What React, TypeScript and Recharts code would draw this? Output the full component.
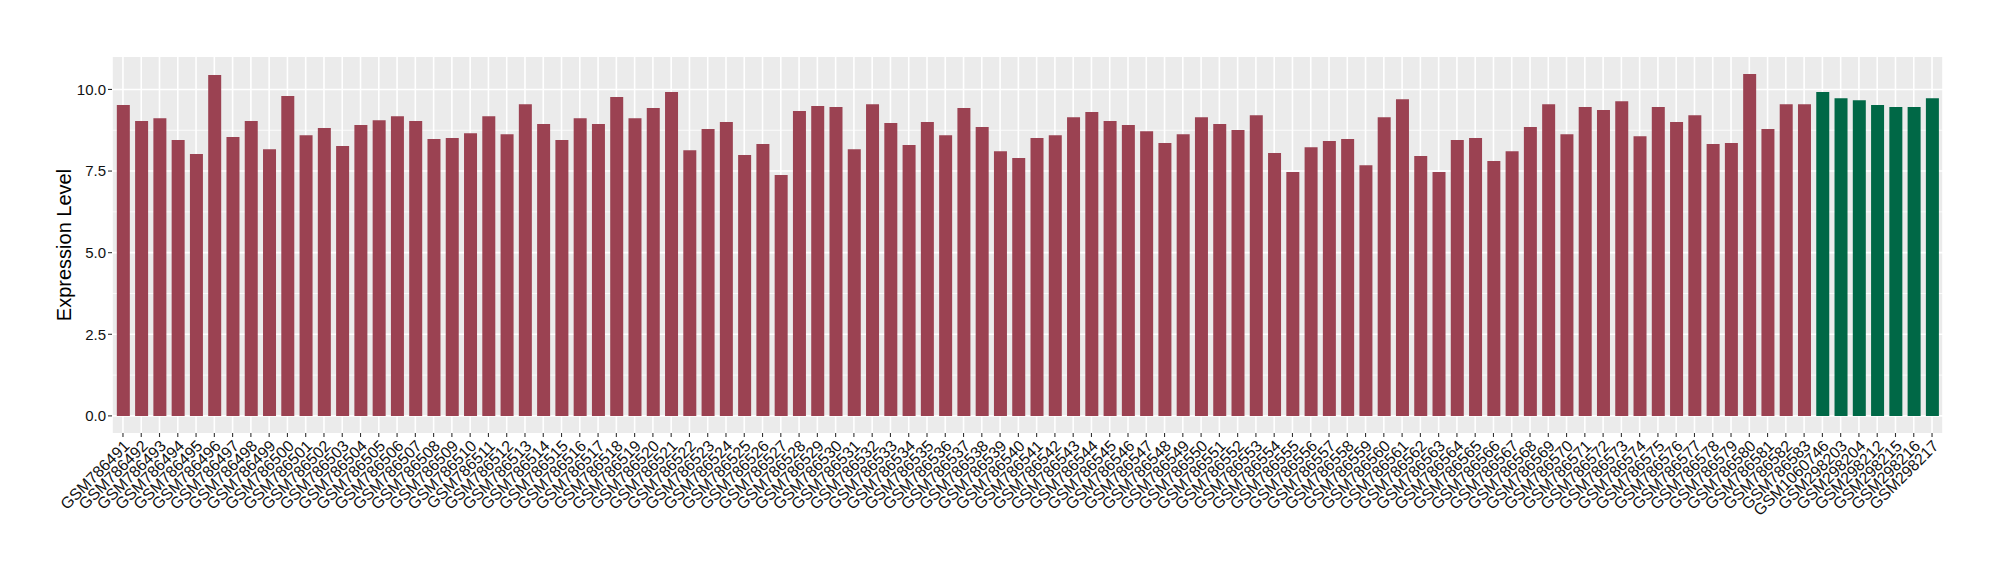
import React from "react";
import { BarChart, Bar, XAxis, YAxis, CartesianGrid, Cell } from "recharts";

const samples: string[] = [
  "GSM786491","GSM786492","GSM786493","GSM786494","GSM786495","GSM786496","GSM786497","GSM786498","GSM786499","GSM786500",
  "GSM786501","GSM786502","GSM786503","GSM786504","GSM786505","GSM786506","GSM786507","GSM786508","GSM786509","GSM786510",
  "GSM786511","GSM786512","GSM786513","GSM786514","GSM786515","GSM786516","GSM786517","GSM786518","GSM786519","GSM786520",
  "GSM786521","GSM786522","GSM786523","GSM786524","GSM786525","GSM786526","GSM786527","GSM786528","GSM786529","GSM786530",
  "GSM786531","GSM786532","GSM786533","GSM786534","GSM786535","GSM786536","GSM786537","GSM786538","GSM786539","GSM786540",
  "GSM786541","GSM786542","GSM786543","GSM786544","GSM786545","GSM786546","GSM786547","GSM786548","GSM786549","GSM786550",
  "GSM786551","GSM786552","GSM786553","GSM786554","GSM786555","GSM786556","GSM786557","GSM786558","GSM786559","GSM786560",
  "GSM786561","GSM786562","GSM786563","GSM786564","GSM786565","GSM786566","GSM786567","GSM786568","GSM786569","GSM786570",
  "GSM786571","GSM786572","GSM786573","GSM786574","GSM786575","GSM786576","GSM786577","GSM786578","GSM786579","GSM786580",
  "GSM786581","GSM786582","GSM786583",
  "GSM1060746","GSM298203","GSM298204","GSM298212","GSM298215","GSM298216","GSM298217",
];

const values: number[] = [
  9.52, 9.03, 9.12, 8.45, 8.02, 10.44, 8.54, 9.03, 8.17, 9.80,
  8.60, 8.82, 8.27, 8.91, 9.06, 9.18, 9.03, 8.48, 8.51, 8.66,
  9.18, 8.63, 9.55, 8.94, 8.45, 9.12, 8.94, 9.77, 9.12, 9.43,
  9.92, 8.14, 8.79, 9.00, 7.99, 8.33, 7.38, 9.34, 9.49, 9.46,
  8.17, 9.55, 8.97, 8.30, 9.00, 8.60, 9.43, 8.85, 8.11, 7.90,
  8.51, 8.60, 9.15, 9.31, 9.03, 8.91, 8.72, 8.36, 8.63, 9.15,
  8.94, 8.76, 9.21, 8.05, 7.47, 8.23, 8.42, 8.48, 7.68, 9.15,
  9.70, 7.96, 7.47, 8.45, 8.51, 7.81, 8.11, 8.85, 9.55, 8.63,
  9.46, 9.37, 9.64, 8.57, 9.46, 9.00, 9.21, 8.33, 8.36, 10.47,
  8.79, 9.55, 9.55,
  9.92, 9.73, 9.67, 9.52, 9.46, 9.46, 9.73,
];

const groups: string[] = samples.map((_, i) => (i < 93 ? "A" : "B"));

const groupColors: Record<string, string> = { A: "#9B4252", B: "#006846" };

const yTicks = [0, 2.5, 5, 7.5, 10];
const yMinor = [1.25, 3.75, 6.25, 8.75];
const yTickLabels = ["0.0", "2.5", "5.0", "7.5", "10.0"];

const data = samples.map((s, i) => ({ sample: s, value: values[i], group: groups[i] }));

const FONT = "'Liberation Sans', Arial, Helvetica, sans-serif";

const XTick = (props: any) => {
  const { x, payload } = props;
  return (
    <g transform={`translate(${x + 7.5},${447})`}>
      <text transform="rotate(-45)" textAnchor="end" fontSize={16} fontFamily={FONT} fill="#111">
        {payload.value}
      </text>
    </g>
  );
};

const YTick = (props: any) => {
  const { x, y, payload } = props;
  const idx = yTicks.indexOf(payload.value);
  return (
    <text x={x} y={y} dy={5.3} textAnchor="end" fontSize={15} fontFamily={FONT} fill="#111">
      {idx >= 0 ? yTickLabels[idx] : payload.value}
    </text>
  );
};

export default function App() {
  return (
    <div style={{ position: "absolute", left: 0, top: 0, width: 2000, height: 580, background: "#fff" }}>
      <BarChart
        width={2000}
        height={580}
        data={data}
        margin={{ top: 57, right: 57, left: 0, bottom: 0 }}
        barSize={13}
      >
        <CartesianGrid
          fill="#EBEBEB"
          stroke="#FFFFFF"
          strokeWidth={1.6}
          horizontal={false}
          vertical={true}
        />
        <CartesianGrid
          stroke="#FFFFFF"
          strokeWidth={0.8}
          vertical={false}
          horizontalValues={yMinor}
        />
        <CartesianGrid
          stroke="#FFFFFF"
          strokeWidth={1.6}
          vertical={false}
          horizontalValues={yTicks}
        />
        <XAxis
          dataKey="sample"
          interval={0}
          height={147}
          tickSize={4}
          tickLine={{ stroke: "#333333", strokeWidth: 1.1 }}
          axisLine={false}
          padding={{ left: 1.83, right: 1.83 }}
          tick={<XTick />}
        />
        <YAxis
          width={112}
          domain={[-0.524, 10.994]}
          ticks={yTicks}
          allowDataOverflow={true}
          tickSize={4}
          tickMargin={2}
          tickLine={{ stroke: "#333333", strokeWidth: 1.1 }}
          axisLine={false}
          tick={<YTick />}
        />
        <Bar dataKey="value" isAnimationActive={false}>
          {data.map((d, i) => (
            <Cell key={i} fill={groupColors[d.group]} />
          ))}
        </Bar>
        <text
          transform="translate(71,245) rotate(-90)"
          textAnchor="middle"
          fontSize={20}
          fontFamily={FONT}
          fill="#000"
        >
          Expression Level
        </text>
      </BarChart>
    </div>
  );
}
